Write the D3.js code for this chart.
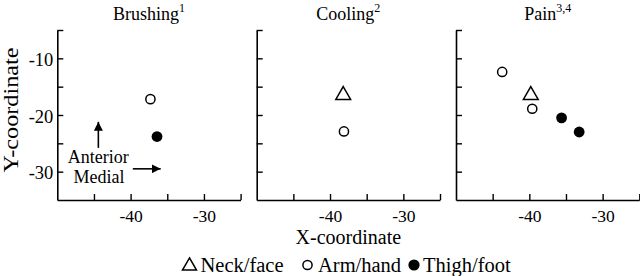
<!DOCTYPE html>
<html>
<head>
<meta charset="utf-8">
<script src="https://cdn.jsdelivr.net/npm/d3@7"></script>
<style>
  html, body { margin: 0; padding: 0; background: #fff; }
  svg { display: block; font-family: "Liberation Serif", "Times New Roman", serif; }
</style>
</head>
<body>
<svg id="chart" width="640" height="276"></svg>
<script>
// ---- Data ----
const panels = ["Brushing", "Cooling", "Pain"];
const superscripts = ["1", "2", "3,4"];
const neckFace = [
  { panel: "Cooling", x: -38.2, y: -16.5 },
  { panel: "Pain", x: -39.8, y: -16.5 }
];
const armHand = [
  { panel: "Brushing", x: -37.3, y: -17.2 },
  { panel: "Cooling", x: -38.1, y: -22.9 },
  { panel: "Pain", x: -43.7, y: -12.4 },
  { panel: "Pain", x: -39.6, y: -18.9 }
];
const thighFoot = [
  { panel: "Brushing", x: -36.4, y: -23.8 },
  { panel: "Pain", x: -35.6, y: -20.5 },
  { panel: "Pain", x: -33.2, y: -23.0 }
];
const xDomain = [-50, -25];
const yDomain = [-35, -5];
const xTickValues = [-45, -40, -35, -30, -25];
const xTickLabels = [-40, -30];
const yTickValues = [-30, -25, -20, -15, -10, -5];
const yTickLabels = [-10, -20, -30];
const legendLabels = ["Neck/face", "Arm/hand", "Thigh/foot"];
const xAxisTitle = "X-coordinate";
const yAxisTitle = "Y-coordinate";
const annotations = ["Anterior", "Medial"];

// ---- Layout ----
const svg = d3.select("#chart");
const panelLeft = [57.3, 256.7, 456];
const panelW = 183.3;
const plotTop = 30, plotBottom = 200;
const ink = "#000";

const y = d3.scaleLinear().domain(yDomain).range([plotBottom, plotTop]);

panels.forEach((name, i) => {
  const x = d3.scaleLinear().domain(xDomain).range([panelLeft[i], panelLeft[i] + panelW]);
  const g = svg.append("g");

  // x axis
  const xa = g.append("g").attr("transform", `translate(0,${plotBottom})`)
    .call(d3.axisBottom(x).tickValues(xTickValues)
      .tickFormat(d => xTickLabels.includes(d) ? String(d) : "")
      .tickSizeInner(-6).tickSizeOuter(0));
  xa.select(".domain").attr("stroke", ink).attr("stroke-width", 1.6);
  xa.selectAll(".tick line").attr("stroke", ink).attr("stroke-width", 1.4);
  xa.selectAll(".tick text").attr("font-size", 17.5).attr("fill", ink)
    .attr("font-family", "Liberation Serif").attr("y", 22).attr("dy", 0);

  // y axis
  const ya = g.append("g").attr("transform", `translate(${panelLeft[i]},0)`)
    .call(d3.axisLeft(y).tickValues(yTickValues)
      .tickFormat(d => (i === 0 && yTickLabels.includes(d)) ? String(d) : "")
      .tickSizeInner(-6).tickSizeOuter(0));
  ya.select(".domain").attr("stroke", ink).attr("stroke-width", 1.6);
  ya.selectAll(".tick line").attr("stroke", ink).attr("stroke-width", 1.4);
  ya.selectAll(".tick text").attr("font-size", 18.5).attr("fill", ink)
    .attr("font-family", "Liberation Serif").attr("x", -4).attr("dy", "0.38em");

  // title
  const t = g.append("text")
    .attr("x", panelLeft[i] + panelW / 2).attr("y", 20)
    .attr("text-anchor", "middle").attr("font-size", 18).attr("fill", ink);
  t.append("tspan").text(name);
  t.append("tspan").attr("font-size", 12).attr("dy", -8).text(superscripts[i]);

  // marks
  g.selectAll("path.tri").data(neckFace.filter(d => d.panel === name)).join("path")
    .attr("class", "tri")
    .attr("transform", d => `translate(${x(d.x)},${y(d.y)})`)
    .attr("d", d3.symbol(d3.symbolTriangle, 95))
    .attr("fill", "#fff").attr("stroke", ink).attr("stroke-width", 1.5);
  g.selectAll("circle.arm").data(armHand.filter(d => d.panel === name)).join("circle")
    .attr("class", "arm")
    .attr("cx", d => x(d.x)).attr("cy", d => y(d.y)).attr("r", 4.6)
    .attr("fill", "#fff").attr("stroke", ink).attr("stroke-width", 1.5);
  g.selectAll("circle.thigh").data(thighFoot.filter(d => d.panel === name)).join("circle")
    .attr("class", "thigh")
    .attr("cx", d => x(d.x)).attr("cy", d => y(d.y)).attr("r", 5.4)
    .attr("fill", ink);

  // annotations in first panel
  if (i === 0) {
    const defs = svg.append("defs");
    defs.append("marker").attr("id", "ah").attr("viewBox", "0 0 10 10")
      .attr("refX", 10).attr("refY", 5).attr("markerWidth", 9).attr("markerHeight", 9)
      .attr("markerUnits", "userSpaceOnUse").attr("orient", "auto")
      .append("path").attr("d", "M0,0L10,5L0,10Z").attr("fill", ink);
    g.append("line")
      .attr("x1", x(-44.4)).attr("x2", x(-44.4))
      .attr("y1", y(-25.8)).attr("y2", y(-21.2))
      .attr("stroke", ink).attr("stroke-width", 1.6).attr("marker-end", "url(#ah)");
    g.append("line")
      .attr("x1", x(-39.7)).attr("x2", x(-35.9))
      .attr("y1", y(-29.5)).attr("y2", y(-29.5))
      .attr("stroke", ink).attr("stroke-width", 1.6).attr("marker-end", "url(#ah)");
    g.append("text").attr("x", x(-44.4)).attr("y", 163).attr("text-anchor", "middle")
      .attr("font-size", 18).attr("fill", ink).text(annotations[0]);
    g.append("text").attr("x", x(-44.3)).attr("y", 183).attr("text-anchor", "middle")
      .attr("font-size", 18).attr("fill", ink).text(annotations[1]);
  }
});

// axis titles
svg.append("text").attr("x", panelLeft[1] + panelW / 2).attr("y", 244)
  .attr("text-anchor", "middle").attr("font-size", 20).attr("fill", ink).text(xAxisTitle);
svg.append("text")
  .attr("transform", `translate(17.5,${(plotTop + plotBottom) / 2 - 5}) rotate(-90)`)
  .attr("text-anchor", "middle").attr("font-size", 20).attr("fill", ink)
  .attr("textLength", 125).attr("lengthAdjust", "spacingAndGlyphs")
  .text(yAxisTitle);

// legend
const lg = svg.append("g");
const ly = 265;
lg.append("path").attr("transform", `translate(189.5,${ly + 1})`)
  .attr("d", d3.symbol(d3.symbolTriangle, 85))
  .attr("fill", "#fff").attr("stroke", ink).attr("stroke-width", 1.5);
lg.append("circle").attr("cx", 307.5).attr("cy", ly).attr("r", 4.6)
  .attr("fill", "#fff").attr("stroke", ink).attr("stroke-width", 1.5);
lg.append("circle").attr("cx", 414).attr("cy", ly).attr("r", 5.6).attr("fill", ink);
const lx = [200.5, 318, 423];
legendLabels.forEach((l, i) => {
  lg.append("text").attr("x", lx[i]).attr("y", 271.5).attr("font-size", 20.5)
    .attr("fill", ink).text(l);
});
</script>
</body>
</html>
